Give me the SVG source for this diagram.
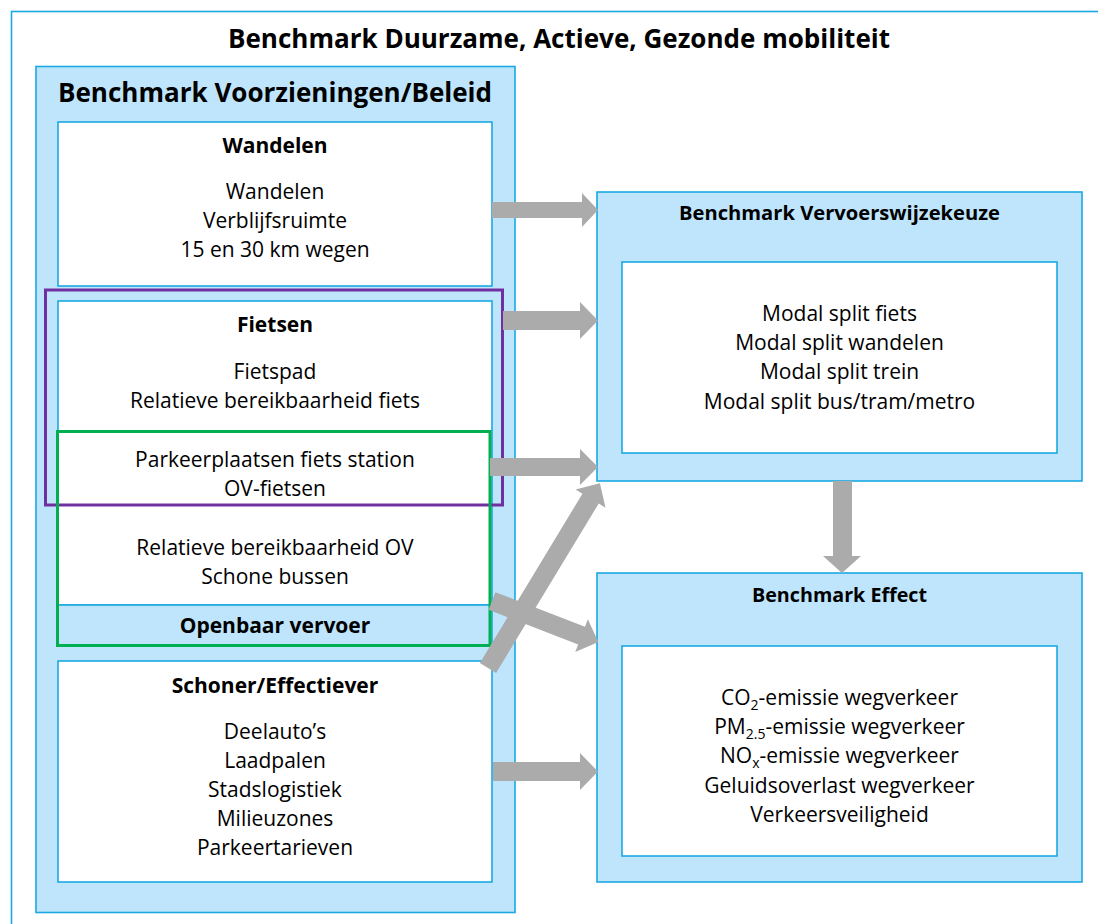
<svg xmlns="http://www.w3.org/2000/svg" width="1098" height="924" viewBox="0 0 1098 924">
<style>
  text { font-family: "Open Sans", "Noto Sans", sans-serif; fill: #000; text-anchor: middle; }
  .b { font-weight: bold; }
  .body { font-size: 21px; }
  .hd { font-size: 21px; font-weight: bold; }
  .lb { fill: #BEE5FC; stroke: #1BA9E2; stroke-width: 1.6; }
  .wh { fill: #FFFFFF; stroke: #1BA9E2; stroke-width: 1.6; }
  .arr { fill: #ABABAB; stroke: none; }
</style>
<rect x="0" y="0" width="1098" height="924" fill="#FFFFFF"/>
<rect x="11.5" y="11.5" width="1100" height="1000" fill="none" stroke="#1BA9E2" stroke-width="1.6"/>
<text class="b" x="559" y="48" font-size="27" textLength="662" lengthAdjust="spacingAndGlyphs">Benchmark Duurzame, Actieve, Gezonde mobiliteit</text>

<g id="voorzieningen">
  <rect class="lb" x="36" y="66.5" width="479" height="846"/>
  <text class="b" x="275" y="102" font-size="26" textLength="434" lengthAdjust="spacingAndGlyphs">Benchmark Voorzieningen/Beleid</text>
</g>

<g id="wandelen">
  <rect class="wh" x="58" y="122" width="434" height="164"/>
  <text class="hd" x="275" y="153">Wandelen</text>
  <text class="body" x="275" y="199">Wandelen</text>
  <text class="body" x="275" y="228">Verblijfsruimte</text>
  <text class="body" x="275" y="257">15 en 30 km wegen</text>
</g>

<g id="fietsen-ov">
  <rect class="wh" x="58" y="301" width="434" height="304"/>
  <rect class="lb" x="58" y="605" width="434" height="40"/>
  <text class="hd" x="275" y="332">Fietsen</text>
  <text class="body" x="275" y="379">Fietspad</text>
  <text class="body" x="275" y="408">Relatieve bereikbaarheid fiets</text>
  <text class="body" x="275" y="467">Parkeerplaatsen fiets station</text>
  <text class="body" x="275" y="496">OV-fietsen</text>
  <text class="body" x="275" y="555">Relatieve bereikbaarheid OV</text>
  <text class="body" x="275" y="584">Schone bussen</text>
  <text class="hd" x="275" y="633">Openbaar vervoer</text>
</g>

<g id="schoner">
  <rect class="wh" x="58" y="661" width="434" height="221"/>
  <text class="hd" x="275" y="693">Schoner/Effectiever</text>
  <text class="body" x="275" y="739">Deelauto’s</text>
  <text class="body" x="275" y="768">Laadpalen</text>
  <text class="body" x="275" y="797">Stadslogistiek</text>
  <text class="body" x="275" y="826">Milieuzones</text>
  <text class="body" x="275" y="855">Parkeertarieven</text>
</g>

<g id="groep-fietsen">
  <rect x="45.5" y="290" width="457" height="215" fill="none" stroke="#7030A0" stroke-width="3"/>
</g>
<g id="groep-ov">
  <rect x="57.5" y="431.5" width="432.5" height="214" fill="none" stroke="#00B050" stroke-width="3"/>
</g>

<g id="vervoerswijzekeuze">
  <rect class="lb" x="597" y="192" width="485" height="289"/>
  <text class="b" x="839.5" y="220" font-size="19.5" textLength="321" lengthAdjust="spacingAndGlyphs">Benchmark Vervoerswijzekeuze</text>
  <rect class="wh" x="622" y="262" width="435" height="191"/>
  <text class="body" x="839.5" y="321">Modal split fiets</text>
  <text class="body" x="839.5" y="350">Modal split wandelen</text>
  <text class="body" x="839.5" y="379">Modal split trein</text>
  <text class="body" x="839.5" y="409">Modal split bus/tram/metro</text>
</g>

<g id="effect">
  <rect class="lb" x="597" y="573" width="485" height="309"/>
  <text class="b" x="839.5" y="602" font-size="19.5" textLength="175" lengthAdjust="spacingAndGlyphs">Benchmark Effect</text>
  <rect class="wh" x="622" y="646" width="435" height="210"/>
  <text class="body" x="839.5" y="705">CO<tspan dy="5" font-size="14">2</tspan><tspan dy="-5">-emissie wegverkeer</tspan></text>
  <text class="body" x="839.5" y="734">PM<tspan dy="5" font-size="14">2.5</tspan><tspan dy="-5">-emissie wegverkeer</tspan></text>
  <text class="body" x="839.5" y="763">NO<tspan dy="5" font-size="14">x</tspan><tspan dy="-5">-emissie wegverkeer</tspan></text>
  <text class="body" x="839.5" y="793">Geluidsoverlast wegverkeer</text>
  <text class="body" x="839.5" y="822">Verkeersveiligheid</text>
</g>

<g id="connectors">
  <polygon class="arr" points="492,202 582,202 582,193 598,210 582,227 582,218 492,218"/>
  <polygon class="arr" points="503,311 580,311 580,302 598,320.5 580,339 580,330 503,330"/>
  <polygon class="arr" points="490,458 580,458 580,449 598,467 580,485 580,476 490,476"/>
  <polygon class="arr" points="493,762 580,762 580,753 598,771.5 580,790 580,781 493,781"/>
  <polygon class="arr" points="833,481 852,481 852,556 861,556 842,573 823,556 833,556"/>
  <polygon class="arr" transform="translate(488,668) rotate(-58.8)" points="0,-9.5 198,-9.5 198,-17.5 216,0 198,17.5 198,9.5 0,9.5"/>
  <polygon class="arr" transform="translate(492,601) rotate(21.1)" points="0,-9.5 96,-9.5 96,-17.5 114,0 96,17.5 96,9.5 0,9.5"/>
</g>
</svg>
